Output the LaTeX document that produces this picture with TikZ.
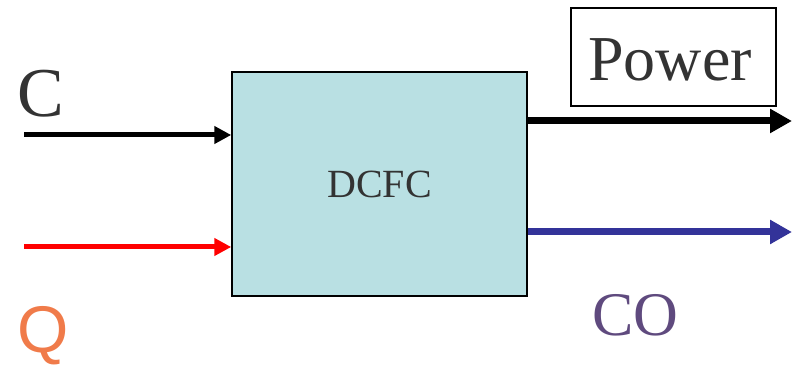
\documentclass[tikz,border=0pt]{standalone}
\usepackage{fontspec}
\setmainfont{Liberation Serif}
\newfontfamily\arialfont{Liberation Sans}
\usetikzlibrary{arrows.meta}
\definecolor{boxfill}{HTML}{B9E0E3}
\definecolor{txtgray}{HTML}{333333}
\definecolor{qorange}{HTML}{F07B4A}
\definecolor{copurple}{HTML}{5F4A7E}
\definecolor{coblue}{HTML}{333399}
\begin{document}
\begin{tikzpicture}[x=1pt,y=1pt,
  lbl/.style={inner sep=0pt,anchor=base west,text=txtgray},
  inarrow/.style={line width=5pt,-{Triangle[length=17pt,width=17pt]}},
  outarrow/.style={line width=7pt,-{Triangle[length=22pt,width=23pt]}}]
\useasboundingbox (0,0) rectangle (796,367);
\node[draw=black,line width=1.5pt,fill=boxfill,minimum width=295pt,minimum height=224pt,inner sep=0pt] (dcfc) at (379.5,183) {};
\node[inner sep=0pt,anchor=base,text=txtgray,font=\fontsize{40}{40}\selectfont] (dcfclbl) at (379.5,169) {DCFC};
\node[draw=black,line width=1.2pt,minimum width=205pt,minimum height=98pt,inner sep=0pt] (powbox) at (673.5,310) {};
\node[inner sep=0pt,anchor=base,text=txtgray,font=\fontsize{64}{64}\selectfont] (pow) at (670,286) {Power};
\node[lbl,font=\fontsize{70}{70}\selectfont] (c) at (17,250) {C};
\node[lbl,text=qorange,font=\arialfont\fontsize{66}{66}\selectfont] (q) at (17,14) {Q};
\node[lbl,text=copurple,font=\fontsize{62}{62}\selectfont] (co) at (592,31) {CO};
\coordinate (cstart) at (24,232);
\coordinate (qstart) at (24,120);
\coordinate (powend) at (792,246);
\coordinate (coend) at (792,135);
\draw[inarrow,black] (cstart) -- (cstart -| dcfc.west);
\draw[inarrow,red] (qstart) -- (qstart -| dcfc.west);
\draw[outarrow,black] (powend -| dcfc.east) -- (powend);
\draw[outarrow,coblue] (coend -| dcfc.east) -- (coend);
\end{tikzpicture}
\end{document}
